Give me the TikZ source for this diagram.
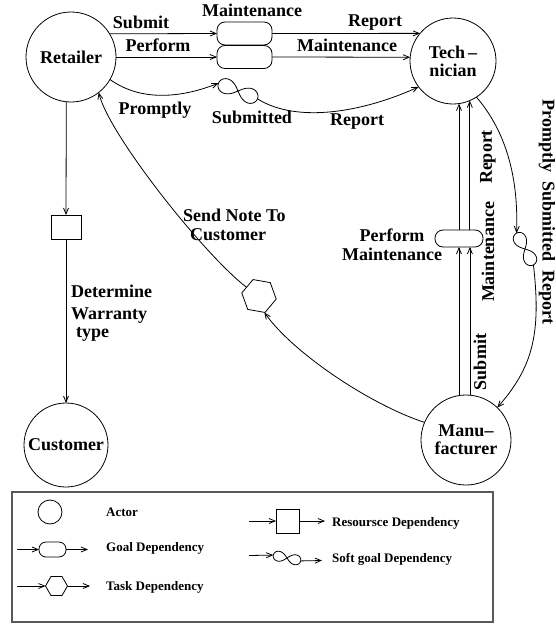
\documentclass[tikz,border=0pt]{standalone}
\usepackage{fontspec}
\setmainfont{Liberation Serif}
\usetikzlibrary{arrows.meta,shapes.geometric,calc}
\begin{document}
\begin{tikzpicture}[x=1pt,y=-1pt,
  lw/.style={line width=0.8pt},
  actor/.style={circle,draw,lw,inner sep=0pt,outer sep=0pt,align=center,font=\bfseries\fontsize{18}{18}\selectfont},
  goalbox/.style={draw,lw,rounded corners=8pt,inner sep=0pt,outer sep=0pt},
  resbox/.style={draw,lw,inner sep=0pt,outer sep=0pt},
  taskhex/.style={draw,lw,regular polygon,regular polygon sides=6,inner sep=0pt,outer sep=0pt},
  dep/.style={lw,-{Straight Barb[length=6pt,width=5pt]}},
  lbl/.style={font=\bfseries\fontsize{18}{19}\selectfont,inner sep=0pt},
  leglbl/.style={font=\bfseries\fontsize{13}{13}\selectfont,inner sep=0pt,anchor=west},
  legframe/.style={draw=black!65,line width=1.2pt,inner sep=0pt,outer sep=0pt},
  pics/softgoal/.style args={#1/#2}{code={
    \draw[lw] plot[domain=0:360,samples=97,variable=\t]
      ({#1*(cos(\t)*cos(#2)-sin(\t)*cos(\t)*sin(#2))/(1+sin(\t)*sin(\t))},
       {#1*(cos(\t)*sin(#2)+sin(\t)*cos(\t)*cos(#2))/(1+sin(\t)*sin(\t))});
    \coordinate (-w) at ({-#1*cos(#2)},{-#1*sin(#2)});
    \coordinate (-e) at ({#1*cos(#2)},{#1*sin(#2)});
  }}
]
\useasboundingbox (0,0) rectangle (556,624);

% actors
\node[actor,minimum size=90pt] (ret) at (71,57) {Retailer};
\node[actor,minimum size=86pt] (tech) at (453,61) {Tech\,–\\nician};
\node[actor,minimum size=90pt] (manu) at (466,440) {Manu–\\facturer};
\node[actor,minimum size=84pt] (cust) at (66,445) {Customer};

% dependums
\node[goalbox,minimum width=55pt,minimum height=23pt] (g1) at (244.5,33.5) {};
\node[goalbox,minimum width=55pt,minimum height=23pt] (g2) at (244.5,57) {};
\node[goalbox,minimum width=48pt,minimum height=17pt] (g3) at (459,238.5) {};
\node[resbox,minimum width=30pt,minimum height=24pt] (r1) at (66,227) {};
\node[taskhex,minimum size=35pt,rotate=-10] (t1) at (259,296) {};
\pic (s1) at (238,91) {softgoal={21/22}};
\pic (s2) at (525,249) {softgoal={18/62}};

% connectors
\draw[dep] (ret.31) -- (g1.west);
\draw[dep] (g1.east) -- (tech.140);
\draw[dep] (ret.east) -- (g2.west);
\draw[dep] (g2.east) -- (tech.175);
\draw[dep] (ret.-30) .. controls +(35,25) and +(-30,12) .. (s1-w);
\draw[dep] (s1-e) .. controls +(40,25) and +(-55,25) .. (tech.217);
\draw[dep] (tech.-57) .. controls +(30,35) and +(2,-55) .. (s2-w);
\draw[dep] (s2-e) .. controls +(8,70) and +(35,-40) .. (manu.46);
\draw[dep] (manu.157) .. controls +(-55,-18) and +(28,40) .. (t1.-62);
\draw[dep] (t1.155) .. controls +(-42,-32) and +(10,42) .. (ret.-52);
\draw[dep] (manu.99) -- (manu.99 |- g3.south);
\draw[dep] (manu.85) -- (manu.85 |- g3.south);
\draw[dep] (tech.-82 |- g3.north) -- (tech.-82);
\draw[dep] (tech.-67 |- g3.north) -- (tech.-67);
\draw[dep] (ret.-96) -- (r1.north);
\draw[dep] (r1.south) -- (cust.north);

% labels
\node[lbl] at (141,22) {Submit};
\node[lbl] at (252,10) {Maintenance};
\node[lbl] at (375,23) {Report};
\node[lbl] at (158,45) {Perform};
\node[lbl] at (347,45) {Maintenance};
\node[lbl] at (155,110) {Promptly};
\node[lbl] at (252,117) {Submitted};
\node[lbl] at (357,122) {Report};
\node[lbl,rotate=90] at (480,362) {Submit};
\node[lbl,rotate=90] at (488,252) {Maintenance};
\node[lbl,rotate=90] at (488,157) {Report};
\node[lbl,rotate=-90] at (547,212) {Promptly\hspace{9pt}Submitted\hspace{9pt}Report};
\node[lbl,align=center] at (392,245) {Perform\\Maintenance};
\node[lbl,align=left,anchor=west] at (183,225) {Send Note To\\\hspace*{7pt}Customer};
\node[lbl,align=left,anchor=west,font=\bfseries\fontsize{18}{18}\selectfont] at (71,313) {Determine\\[4pt]Warranty\\\hspace*{5pt}type};

% legend
\node[legframe,minimum width=481pt,minimum height=130pt] (legend) at (252.5,557) {};
\node[actor,minimum size=24pt] (la) at (50,512) {};
\node[leglbl] at (106,512) {Actor};
\coordinate (lg0) at (17,549.5);
\node[goalbox,rounded corners=7pt,minimum width=27pt,minimum height=15pt] (lg) at (52.5,549.5) {};
\coordinate (lg1) at (88,549.5);
\draw[dep] (lg0) -- (lg.west);
\draw[dep] (lg.east) -- (lg1);
\node[leglbl] at (106,548) {Goal Dependency};
\coordinate (lt0) at (17,586);
\node[taskhex,minimum size=22pt] (lt) at (56.5,586) {};
\coordinate (lt1) at (90,586);
\draw[dep] (lt0) -- (lt.west);
\draw[dep] (lt.east) -- (lt1);
\node[leglbl] at (106,587) {Task Dependency};
\coordinate (lr0) at (249,521);
\node[resbox,minimum width=23pt,minimum height=24pt] (lr) at (287.5,521) {};
\coordinate (lr1) at (325,521);
\draw[dep] (lr0) -- (lr.west);
\draw[dep] (lr.east) -- (lr1);
\node[leglbl] at (332,523) {Resoursce Dependency};
\coordinate (ls0) at (249,555.5);
\pic (ls) at (287,558) {softgoal={14/12}};
\coordinate (ls1) at (322,560.5);
\draw[dep] (ls0) -- (ls-w);
\draw[dep] (ls-e) -- (ls1);
\node[leglbl] at (332,559) {Soft goal Dependency};
\end{tikzpicture}
\end{document}
